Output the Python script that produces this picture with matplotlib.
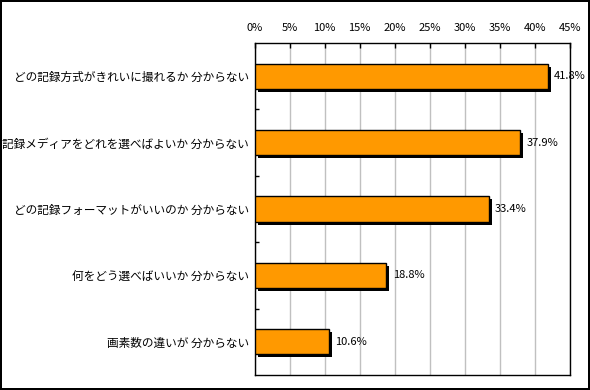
import matplotlib.pyplot as plt
import matplotlib.patheffects as pe
from matplotlib.ticker import FixedLocator
import numpy as np

plt.rcParams['font.family'] = ['Noto Sans CJK JP', 'DejaVu Sans']

labels = ['どの記録方式がきれいに撮れるか 分からない',
          '記録メディアをどれを選べばよいか 分からない',
          'どの記録フォーマットがいいのか 分からない',
          '何をどう選べばいいか 分からない',
          '画素数の違いが 分からない']
values = [41.8, 37.9, 33.4, 18.8, 10.6]
xticks = [0, 5, 10, 15, 20, 25, 30, 35, 40, 45]

fig = plt.figure(figsize=(5.9, 3.9), dpi=100, linewidth=1.5, edgecolor='black')
ax = fig.add_axes([254.5 / 590, 1 - 375 / 390, (570 - 254.5) / 590, (375 - 43) / 390])

y = np.arange(len(values))
shadow = [pe.SimplePatchShadow(offset=(2.2, -2.2), shadow_rgbFace='black', alpha=1), pe.Normal()]
bars = ax.barh(y, values, height=0.38, color='#FF9900', edgecolor='black', linewidth=1, zorder=3)
for b in bars:
    b.set_path_effects(shadow)

for yi, v in zip(y, values):
    ax.text(v + 0.9, yi, f'{v:.1f}%', va='center', ha='left', fontsize=8, zorder=4)

ax.set_xlim(0, 45)
ax.set_ylim(len(values) - 0.5, -0.5)
ax.set_xticks(xticks)
ax.set_xticklabels([f'{t}%' for t in xticks])
ax.xaxis.tick_top()
ax.tick_params(axis='x', direction='in', length=3.6, width=1, pad=7, labelsize=8)
ax.grid(axis='x', color='#C0C0C0', linewidth=1, zorder=0)

ax.set_yticks(y)
ax.set_yticklabels(labels, fontsize=8.4)
ax.tick_params(axis='y', which='major', length=0, pad=4)
ax.yaxis.set_minor_locator(FixedLocator(np.arange(0.5, len(values) - 0.5, 1)))
ax.tick_params(axis='y', which='minor', direction='in', length=3, width=1)

for s in ax.spines.values():
    s.set_linewidth(1)
    s.set_color('black')

fig.savefig('out.png', dpi=100)
